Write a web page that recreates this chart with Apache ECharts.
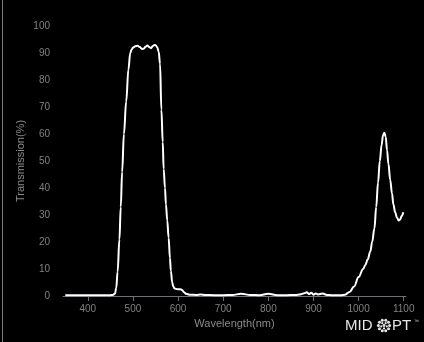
<!DOCTYPE html>
<html>
<head>
<meta charset="utf-8">
<script src="https://cdn.jsdelivr.net/npm/echarts@6/dist/echarts.min.js"></script>
<style>
  html, body { margin: 0; padding: 0; background: #000; }
  #chart { width: 424px; height: 342px; }
</style>
</head>
<body>
<div id="chart"></div>
<script>
// Transmission curve of the filter (wavelength in nm, transmission in %)
const wavelength = [
  350, 360, 380, 400, 420, 440, 450, 455, 460, 463, 466, 470, 473, 476, 480, 485,
  490, 494, 497, 500, 505, 510, 515, 520, 524, 528, 532, 536, 540, 544, 548, 551,
  554, 557, 560, 563, 566, 568, 571, 573, 576, 579, 582, 584, 587, 589, 592, 596,
  600, 605, 609, 613, 618, 625, 640, 650, 660, 680, 700, 720, 740, 760, 780, 800,
  820, 840, 860, 870, 880, 885, 890, 895, 900, 905, 910, 920, 930, 940, 950, 960,
  970, 980, 990, 1000, 1010, 1015, 1020, 1026, 1030, 1035, 1039, 1043, 1047, 1051,
  1054, 1057, 1060, 1063, 1066, 1070, 1074, 1077, 1081, 1085, 1089, 1092, 1095, 1099
];
const transmission = [
  0.3, 0.3, 0.3, 0.3, 0.3, 0.3, 0.3, 0.4, 0.8, 3, 9, 21, 33, 46, 60, 72,
  84, 90, 91.3, 92, 92.5, 92.7, 92.2, 91.5, 91.6, 92.3, 92.8, 92.2, 91.8, 92.6, 93, 92.8,
  92, 90.5, 86, 69, 57, 47, 40, 34, 28, 21.6, 14, 9.3, 5, 3.7, 2.8, 2.6,
  2.5, 2.5, 2.2, 1.4, 0.8, 0.5, 0.4, 0.6, 0.4, 0.3, 0.3, 0.4, 0.8, 0.4, 0.3, 0.8,
  0.3, 0.3, 0.4, 0.6, 1.0, 1.4, 0.7, 1.2, 0.5, 0.9, 0.6, 0.9, 0.4, 0.3, 0.3, 0.3,
  0.5, 1.5, 3.5, 7, 10, 11.5, 13.5, 16.5, 20, 25, 33, 42, 50, 56,
  59.5, 60.5, 59, 54, 49, 43, 38, 34, 31, 29, 28, 28.3, 29.5, 31
];
const xTicks = [400, 500, 600, 700, 800, 900, 1000, 1100];

const points = wavelength.map((w, i) => [w, transmission[i]]);

// Brand mark: "MID", a dotted disc standing in for the O, then "PT"
const logoX = 384, logoY = 325.5;
const logoDots = [{ type: 'circle', shape: { cx: logoX, cy: logoY, r: 1.4 }, style: { fill: '#e6e6e6' } }];
for (let k = 0; k < 10; k++) {
  const a = (k / 10) * Math.PI * 2;
  logoDots.push({ type: 'circle', shape: { cx: logoX + 5.6 * Math.cos(a), cy: logoY + 5.6 * Math.sin(a), r: 1.5 }, style: { fill: '#e6e6e6' } });
}
for (let k = 0; k < 5; k++) {
  const a = (k / 5) * Math.PI * 2 + 0.3;
  logoDots.push({ type: 'circle', shape: { cx: logoX + 2.9 * Math.cos(a), cy: logoY + 2.9 * Math.sin(a), r: 1.1 }, style: { fill: '#e6e6e6' } });
}

const chart = echarts.init(document.getElementById('chart'), null, { renderer: 'canvas' });
chart.setOption({
  backgroundColor: '#000',
  animation: false,
  grid: { left: 63, right: 18, top: 26, bottom: 46 },
  xAxis: {
    type: 'value',
    min: 345,
    max: 1105,
    name: 'Wavelength(nm)',
    nameLocation: 'middle',
    nameGap: 22,
    nameMoveOverlap: false,
    nameTextStyle: { color: '#8a8a8a', fontSize: 11, fontFamily: 'Liberation Sans' },
    axisLine: { show: true, lineStyle: { color: '#6e7079', width: 1 } },
    axisTick: { show: true, length: 5, customValues: xTicks, lineStyle: { color: '#6e7079' } },
    axisLabel: {
      customValues: xTicks,
      formatter: v => String(v),
      color: '#808080', fontSize: 10, fontFamily: 'Liberation Sans', margin: 8
    },
    splitLine: { show: false }
  },
  yAxis: {
    type: 'value',
    min: 0,
    max: 100,
    interval: 10,
    name: 'Transmission(%)',
    nameLocation: 'middle',
    nameGap: 37,
    nameMoveOverlap: false,
    nameTextStyle: { color: '#8a8a8a', fontSize: 11, fontFamily: 'Liberation Sans' },
    axisLine: { show: false },
    axisTick: { show: false },
    axisLabel: { color: '#808080', fontSize: 10, fontFamily: 'Liberation Sans', margin: 13 },
    splitLine: { show: false }
  },
  series: [{
    type: 'line',
    data: points,
    showSymbol: false,
    smooth: 0.4,
    smoothMonotone: 'x',
    lineStyle: { color: '#ffffff', width: 2 }
  }],
  graphic: [
    { type: 'line', shape: { x1: 2.5, y1: 0, x2: 2.5, y2: 342 }, style: { stroke: '#7a7a7a', lineWidth: 1 } },
    { type: 'text', left: 345, top: 318, style: { text: 'MID', fill: '#e6e6e6', fontSize: 15, fontFamily: 'Liberation Sans' } },
    { type: 'group', children: logoDots },
    { type: 'text', left: 392, top: 318, style: { text: 'PT', fill: '#e6e6e6', fontSize: 15, fontFamily: 'Liberation Sans' } },
    { type: 'text', left: 414, top: 319, style: { text: '™', fill: '#cccccc', fontSize: 5, fontFamily: 'Liberation Sans' } }
  ]
});
</script>
</body>
</html>
